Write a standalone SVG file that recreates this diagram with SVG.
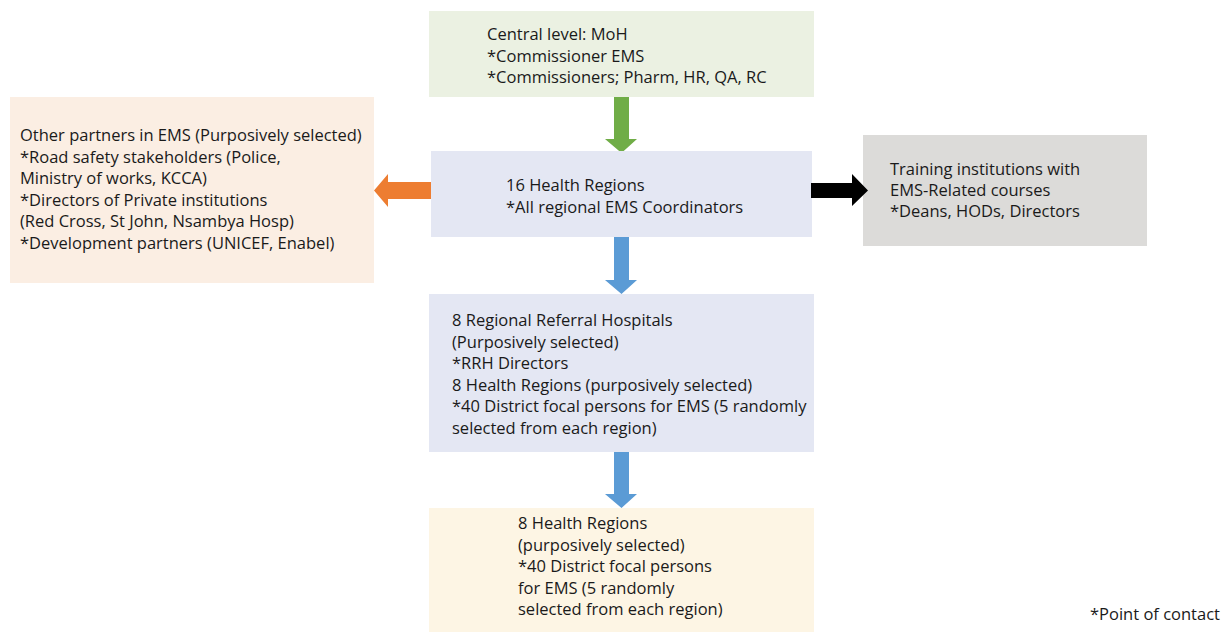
<svg xmlns="http://www.w3.org/2000/svg" width="1231" height="632" viewBox="0 0 1231 632">
<style>
text{font-family:"Open Sans","Noto Sans","Liberation Sans",sans-serif;font-size:16.5px;fill:#1a1a1a}
</style>
<rect width="1231" height="632" fill="#ffffff"/>
<g id="connectors">
<polygon points="614,97 629,97 629,139 637,139 621.5,153 605,139 614,139" fill="#70ad47"/>
<polygon points="614,237 629,237 629,280 637,280 621.5,294 605,280 614,280" fill="#5b9bd5"/>
<polygon points="614,452 629,452 629,494 637,494 621.5,508 605,494 614,494" fill="#5b9bd5"/>
<polygon points="431,182 431,199 388,199 388,207 374,190.5 388,174 388,182" fill="#ed7d31"/>
</g>
<g id="central">
<rect x="429" y="11" width="385" height="86" fill="#ebf1e2"/>
<text x="487" y="40">Central level: MoH</text>
<text x="487" y="61.5">*Commissioner EMS</text>
<text x="487" y="83">*Commissioners; Pharm, HR, QA, RC</text>
</g>
<g id="regions16">
<rect x="431" y="151" width="381" height="86" fill="#e4e7f3"/>
<text x="506" y="191">16 Health Regions</text>
<text x="506" y="212.5">*All regional EMS Coordinators</text>
</g>
<g id="partners">
<rect x="10" y="97" width="364" height="186" fill="#fbeee3"/>
<text x="20" y="141">Other partners in EMS (Purposively selected)</text>
<text x="20" y="162.6">*Road safety stakeholders (Police,</text>
<text x="20" y="184.2">Ministry of works, KCCA)</text>
<text x="20" y="205.8">*Directors of Private institutions</text>
<text x="20" y="227.4">(Red Cross, St John, Nsambya Hosp)</text>
<text x="20" y="249">*Development partners (UNICEF, Enabel)</text>
</g>
<g id="training">
<rect x="863" y="135" width="284" height="111" fill="#dcdbd9"/>
<text x="890" y="175">Training institutions with</text>
<text x="890" y="196">EMS-Related courses</text>
<text x="890" y="217">*Deans, HODs, Directors</text>
</g>
<g id="arrow-right">
<polygon points="811,183 852,183 852,174 868,190.5 852,206 852,198 811,198" fill="#000000"/>
</g>
<g id="rrh">
<rect x="429" y="294" width="385" height="158" fill="#e4e7f3"/>
<text x="452" y="326">8 Regional Referral Hospitals</text>
<text x="452" y="347.5">(Purposively selected)</text>
<text x="452" y="369">*RRH Directors</text>
<text x="452" y="390.5">8 Health Regions (purposively selected)</text>
<text x="452" y="412">*40 District focal persons for EMS (5 randomly</text>
<text x="452" y="433.5">selected from each region)</text>
</g>
<g id="regions8">
<rect x="429" y="508" width="385" height="124" fill="#fdf5e4"/>
<text x="518" y="529">8 Health Regions</text>
<text x="518" y="550.5">(purposively selected)</text>
<text x="518" y="572">*40 District focal persons</text>
<text x="518" y="593.5">for EMS (5 randomly</text>
<text x="518" y="615">selected from each region)</text>
</g>
<text x="1090" y="620">*Point of contact</text>
</svg>
